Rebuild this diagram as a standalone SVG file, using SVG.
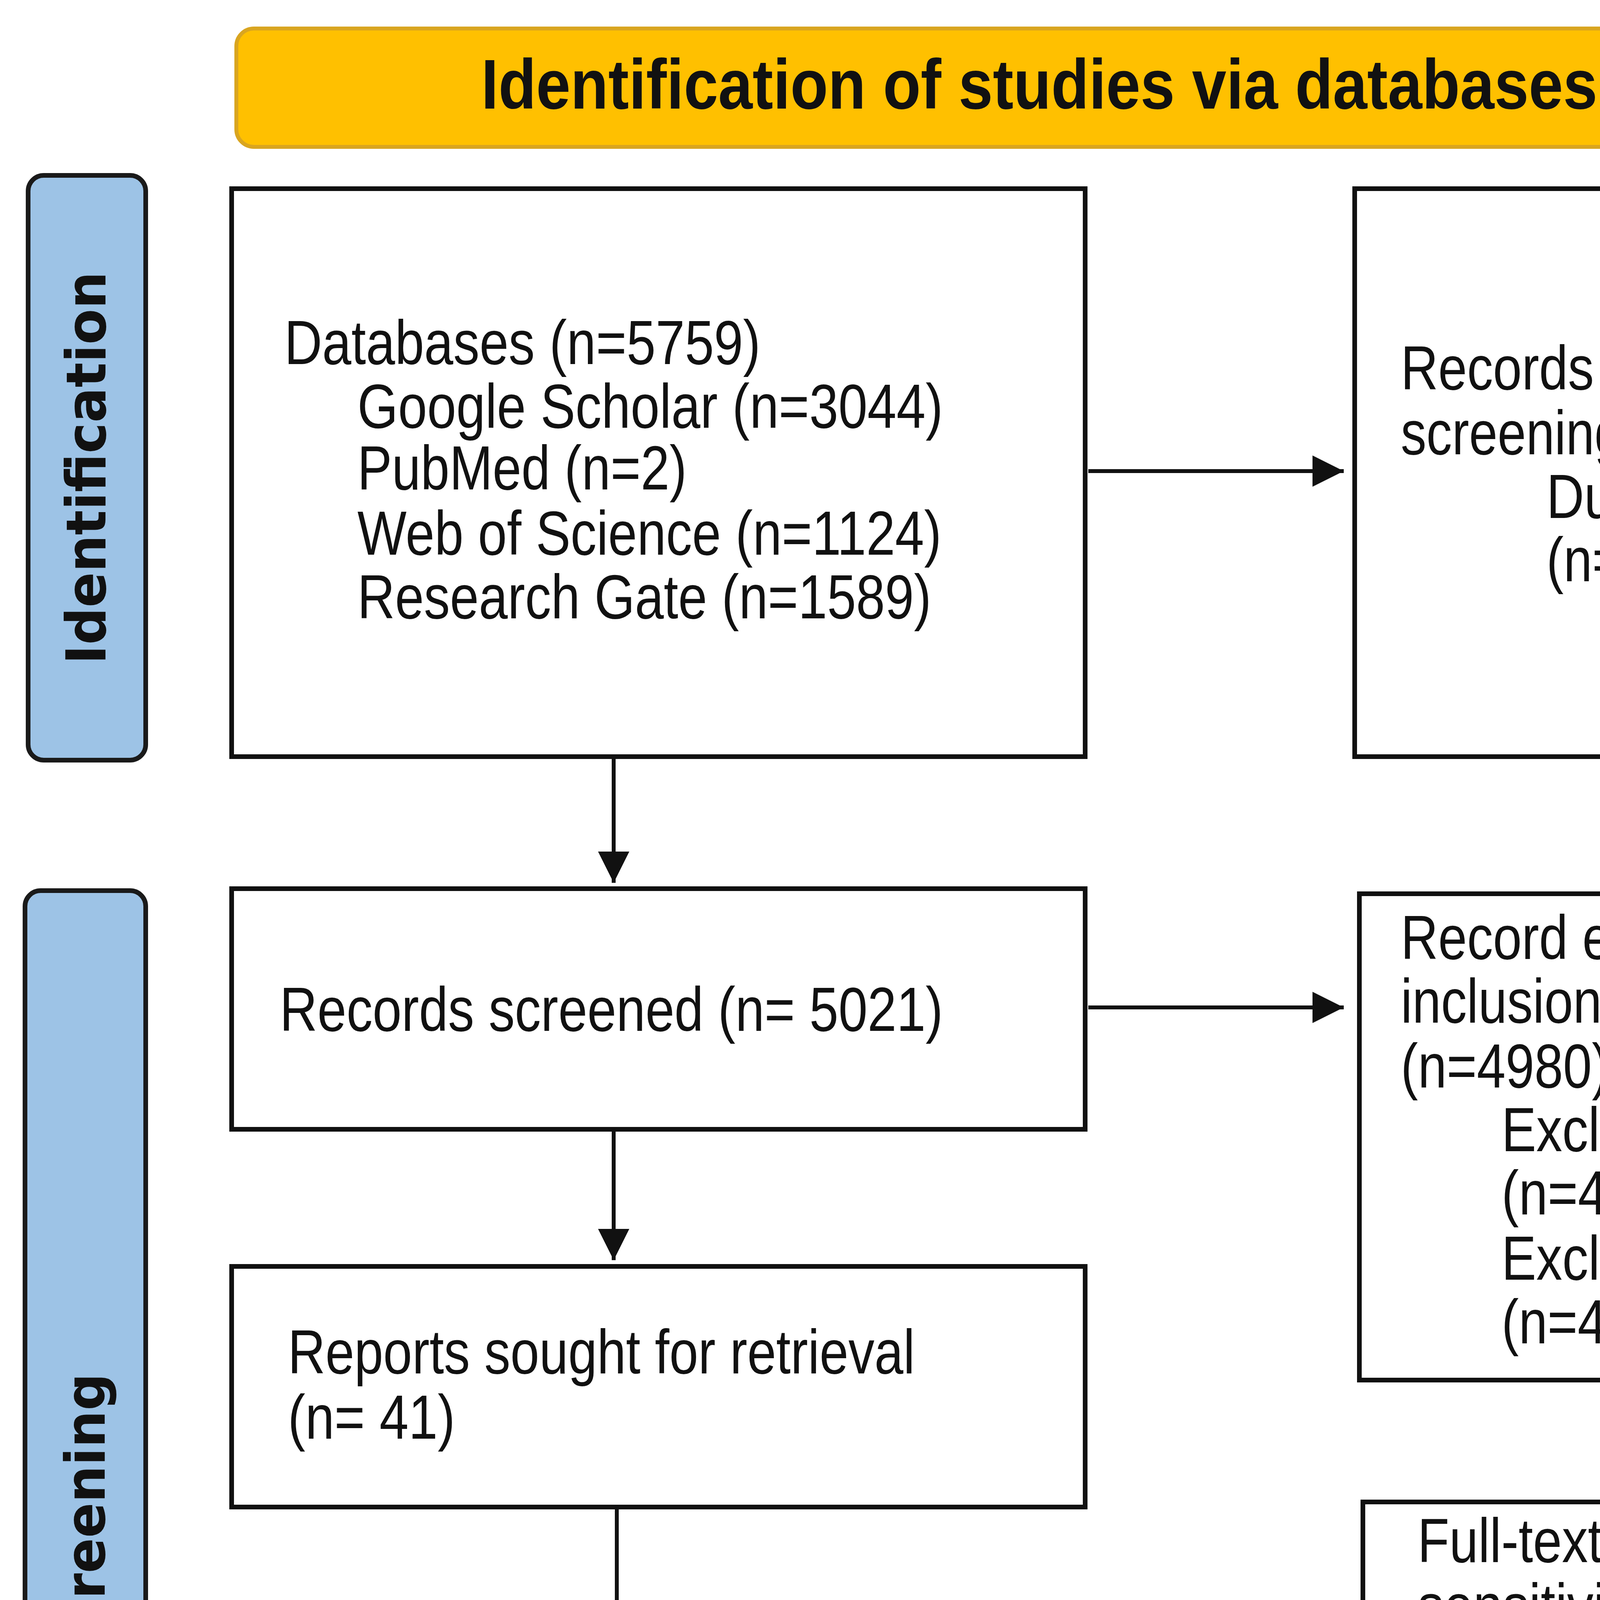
<svg xmlns="http://www.w3.org/2000/svg" width="5843" height="6672" viewBox="0 0 5843 6672">
<defs>
<style>
.box{fill:#fff;stroke:#111;stroke-width:12}
.side{fill:#9dc3e6;stroke:#1a1a1a;stroke-width:12}
.t{font-family:"Liberation Sans",Arial,sans-serif;font-size:160px;fill:#111}
.s{font-family:"DejaVu Sans",sans-serif;font-weight:bold;font-size:140px;fill:#111}
.h{font-family:"Liberation Sans",Arial,sans-serif;font-weight:bold;font-size:180px;fill:#111}
.c{stroke:#111;stroke-width:10;fill:none;marker-end:url(#ah)}
</style>
<marker id="ah" viewBox="0 0 10 10" refX="10" refY="5" markerWidth="80" markerHeight="80" markerUnits="userSpaceOnUse" orient="auto"><path d="M0,0L10,5L0,10z" fill="#111"/></marker>
</defs>
<rect width="5843" height="6672" fill="#fff"/>
<g id="header"><rect x="605" y="73" width="5035" height="303" rx="45" fill="#ffc000" stroke="#d9a520" stroke-width="10"/>
<text class="h" x="1232" y="278" textLength="3895" lengthAdjust="spacingAndGlyphs">Identification of studies via databases and registers</text></g>
<g id="lbl-identification"><rect class="side" x="72" y="449" width="301" height="1497" rx="40"/>
<text class="s" transform="translate(270,1198) rotate(-90)" text-anchor="middle" textLength="1005" lengthAdjust="spacingAndGlyphs">Identification</text></g>
<g id="lbl-screening"><rect class="side" x="64" y="2280" width="309" height="3250" rx="40"/>
<text class="s" transform="translate(268,3892) rotate(-90)" text-anchor="middle" textLength="753" lengthAdjust="spacingAndGlyphs">Screening</text></g>
<g id="lbl-included"><rect class="side" x="93" y="5688" width="309" height="886" rx="40"/>
<text class="s" transform="translate(296,6159) rotate(-90)" text-anchor="middle" textLength="642" lengthAdjust="spacingAndGlyphs">Included</text></g>
<g id="databases"><rect class="box" x="593" y="483" width="2185" height="1454"/>
<text class="t" x="728" y="932" textLength="1219" lengthAdjust="spacingAndGlyphs">Databases (n=5759)</text>
<text class="t" x="915" y="1095" textLength="1499" lengthAdjust="spacingAndGlyphs">Google Scholar (n=3044)</text>
<text class="t" x="915" y="1253" textLength="843" lengthAdjust="spacingAndGlyphs">PubMed (n=2)</text>
<text class="t" x="915" y="1420" textLength="1495" lengthAdjust="spacingAndGlyphs">Web of Science (n=1124)</text>
<text class="t" x="915" y="1583" textLength="1469" lengthAdjust="spacingAndGlyphs">Research Gate (n=1589)</text></g>
<g id="removed"><rect class="box" x="3468" y="483" width="2189" height="1454"/>
<text class="t" x="3586" y="997" textLength="1461" lengthAdjust="spacingAndGlyphs">Records removed before</text>
<text class="t" x="3586" y="1163" textLength="605" lengthAdjust="spacingAndGlyphs">screening:</text>
<text class="t" x="3959" y="1326" textLength="1596" lengthAdjust="spacingAndGlyphs">Duplicate records removed</text>
<text class="t" x="3959" y="1488" textLength="457" lengthAdjust="spacingAndGlyphs">(n=738)</text></g>
<g id="screened"><rect class="box" x="593" y="2275" width="2185" height="616"/>
<text class="t" x="716" y="2639" textLength="1698" lengthAdjust="spacingAndGlyphs">Records screened (n= 5021)</text></g>
<g id="excluded"><rect class="box" x="3480" y="2288" width="2189" height="1245"/>
<text class="t" x="3586" y="2455" textLength="1579" lengthAdjust="spacingAndGlyphs">Record excluded based on</text>
<text class="t" x="3586" y="2618" textLength="948" lengthAdjust="spacingAndGlyphs">inclusion criteria</text>
<text class="t" x="3586" y="2784" textLength="533" lengthAdjust="spacingAndGlyphs">(n=4980)</text>
<text class="t" x="3844" y="2947" textLength="1169" lengthAdjust="spacingAndGlyphs">Excluded by human</text>
<text class="t" x="3844" y="3109" textLength="461" lengthAdjust="spacingAndGlyphs">(n=403)</text>
<text class="t" x="3844" y="3276" textLength="1740" lengthAdjust="spacingAndGlyphs">Excluded by automation tools</text>
<text class="t" x="3844" y="3439" textLength="533" lengthAdjust="spacingAndGlyphs">(n=4577)</text></g>
<g id="sought"><rect class="box" x="593" y="3242" width="2185" height="616"/>
<text class="t" x="737" y="3516" textLength="1605" lengthAdjust="spacingAndGlyphs">Reports sought for retrieval</text>
<text class="t" x="737" y="3683" textLength="428" lengthAdjust="spacingAndGlyphs">(n= 41)</text></g>
<g id="assessed"><rect class="box" x="601" y="4209" width="2189" height="615"/>
<text class="t" x="724" y="4478" textLength="1799" lengthAdjust="spacingAndGlyphs">Reports assessed for eligibility</text>
<text class="t" x="724" y="4641" textLength="423" lengthAdjust="spacingAndGlyphs">(n= 41)</text></g>
<g id="fulltext"><rect class="box" x="3489" y="3845" width="2180" height="1689"/>
<text class="t" x="3629" y="3999" textLength="1774" lengthAdjust="spacingAndGlyphs">Full-text studies after incrased</text>
<text class="t" x="3629" y="4166" textLength="1846" lengthAdjust="spacingAndGlyphs">sensitivity and  in-deeper check</text>
<text class="t" x="3629" y="4328" textLength="385" lengthAdjust="spacingAndGlyphs">(n=26)</text>
<text class="t" x="3887" y="4491" textLength="1456" lengthAdjust="spacingAndGlyphs">Studies with nonrelevant</text>
<text class="t" x="3887" y="4653" textLength="1003" lengthAdjust="spacingAndGlyphs">outcomes (n=11)</text>
<text class="t" x="3887" y="4816" textLength="927" lengthAdjust="spacingAndGlyphs">Editiorials (n=3)</text>
<text class="t" x="3887" y="4983" textLength="1241" lengthAdjust="spacingAndGlyphs">Health concept (n=3)</text>
<text class="t" x="3887" y="5145" textLength="1427" lengthAdjust="spacingAndGlyphs">Reliability and validity of</text>
<text class="t" x="3887" y="5308" textLength="1241" lengthAdjust="spacingAndGlyphs">judging studies (n=7)</text>
<text class="t" x="3887" y="5475" textLength="1359" lengthAdjust="spacingAndGlyphs">Historical studies (n=2)</text></g>
<g id="included"><rect class="box" x="567" y="5705" width="2189" height="852"/>
<text class="t" x="732" y="6112" textLength="1541" lengthAdjust="spacingAndGlyphs">Studies included in review</text>
<text class="t" x="732" y="6274" textLength="423" lengthAdjust="spacingAndGlyphs">(n= 15)</text></g>
<g id="connectors">
<line class="c" x1="2786" y1="1206" x2="3440" y2="1206"/>
<line class="c" x1="2786" y1="2579" x2="3440" y2="2579"/>
<line class="c" x1="2796" y1="4534" x2="3457" y2="4534"/>
<line class="c" x1="1571" y1="1937" x2="1571" y2="2260"/>
<line class="c" x1="1571" y1="2891" x2="1571" y2="3226"/>
<line class="c" x1="1579" y1="3858" x2="1579" y2="4180"/>
<line class="c" x1="1571" y1="4824" x2="1571" y2="5690"/>
</g>
</svg>
